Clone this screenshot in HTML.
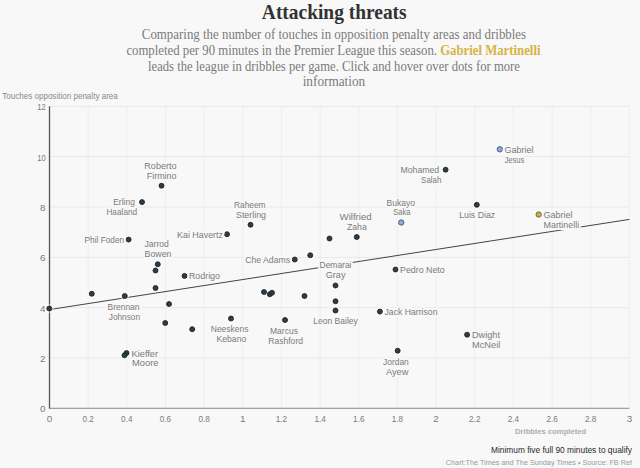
<!DOCTYPE html>
<html><head><meta charset="utf-8"><style>
html,body{margin:0;padding:0;background:#f8f8f8;width:640px;height:468px;overflow:hidden;}
.t{position:absolute;left:0;width:668px;text-align:center;font-family:"Liberation Serif",serif;}
#title{top:0px;font-size:21px;font-weight:bold;color:#323232;line-height:25px;}
#title span{display:inline-block;transform:scaleX(0.925);}
.sub{font-family:"Liberation Serif",serif;font-size:14px;fill:#7a7a7a;}
.gm{fill:#d6b444;font-weight:bold;}
svg{position:absolute;left:0;top:0;}
.lb{font-family:"Liberation Sans",sans-serif;font-size:9px;fill:#7b7b7b;paint-order:stroke;stroke:#f8f8f8;stroke-width:4px;stroke-linejoin:round;}
.tk{font-family:"Liberation Sans",sans-serif;font-size:9.9px;fill:#7b7b7b;}
.sm{font-family:"Liberation Sans",sans-serif;}
</style></head><body>
<div class="t" id="title"><span>Attacking threats</span></div>

<svg width="640" height="468" viewBox="0 0 640 468">
<g class="sub">
<text x="141.8" y="39.4" textLength="384.3" lengthAdjust="spacingAndGlyphs">Comparing the number of touches in opposition penalty areas and dribbles</text>
<text x="126.4" y="54.9" textLength="414.1" lengthAdjust="spacingAndGlyphs">completed per 90 minutes in the Premier League this season. <tspan class="gm">Gabriel Martinelli</tspan></text>
<text x="148" y="70.8" textLength="371.9" lengthAdjust="spacingAndGlyphs">leads the league in dribbles per game. Click and hover over dots for more</text>
<text x="302.7" y="85.9" textLength="62.5" lengthAdjust="spacingAndGlyphs">information</text>
</g>
<text x="2.2" y="98.8" class="sm" font-size="8.8" fill="#888888" textLength="115.6" lengthAdjust="spacingAndGlyphs">Touches opposition penalty area</text>
<line x1="49.50" y1="106.30" x2="49.50" y2="408.40" stroke="#eeeeee" stroke-width="1"/>
<line x1="88.16" y1="106.30" x2="88.16" y2="408.40" stroke="#eeeeee" stroke-width="1"/>
<line x1="126.82" y1="106.30" x2="126.82" y2="408.40" stroke="#eeeeee" stroke-width="1"/>
<line x1="165.48" y1="106.30" x2="165.48" y2="408.40" stroke="#eeeeee" stroke-width="1"/>
<line x1="204.14" y1="106.30" x2="204.14" y2="408.40" stroke="#eeeeee" stroke-width="1"/>
<line x1="242.80" y1="106.30" x2="242.80" y2="408.40" stroke="#eeeeee" stroke-width="1"/>
<line x1="281.46" y1="106.30" x2="281.46" y2="408.40" stroke="#eeeeee" stroke-width="1"/>
<line x1="320.12" y1="106.30" x2="320.12" y2="408.40" stroke="#eeeeee" stroke-width="1"/>
<line x1="358.78" y1="106.30" x2="358.78" y2="408.40" stroke="#eeeeee" stroke-width="1"/>
<line x1="397.44" y1="106.30" x2="397.44" y2="408.40" stroke="#eeeeee" stroke-width="1"/>
<line x1="436.10" y1="106.30" x2="436.10" y2="408.40" stroke="#eeeeee" stroke-width="1"/>
<line x1="474.76" y1="106.30" x2="474.76" y2="408.40" stroke="#eeeeee" stroke-width="1"/>
<line x1="513.42" y1="106.30" x2="513.42" y2="408.40" stroke="#eeeeee" stroke-width="1"/>
<line x1="552.08" y1="106.30" x2="552.08" y2="408.40" stroke="#eeeeee" stroke-width="1"/>
<line x1="590.74" y1="106.30" x2="590.74" y2="408.40" stroke="#eeeeee" stroke-width="1"/>
<line x1="629.40" y1="106.30" x2="629.40" y2="408.40" stroke="#eeeeee" stroke-width="1"/>
<line x1="49.50" y1="408.40" x2="629.40" y2="408.40" stroke="#e9e9e9" stroke-width="1"/>
<line x1="49.50" y1="358.05" x2="629.40" y2="358.05" stroke="#e9e9e9" stroke-width="1"/>
<line x1="49.50" y1="307.70" x2="629.40" y2="307.70" stroke="#e9e9e9" stroke-width="1"/>
<line x1="49.50" y1="257.35" x2="629.40" y2="257.35" stroke="#e9e9e9" stroke-width="1"/>
<line x1="49.50" y1="207.00" x2="629.40" y2="207.00" stroke="#e9e9e9" stroke-width="1"/>
<line x1="49.50" y1="156.65" x2="629.40" y2="156.65" stroke="#e9e9e9" stroke-width="1"/>
<line x1="49.50" y1="106.30" x2="629.40" y2="106.30" stroke="#e9e9e9" stroke-width="1"/>
<line x1="49.50" y1="408.40" x2="629.40" y2="408.40" stroke="#a0a0a0" stroke-width="1.2"/>
<line x1="49.50" y1="106.30" x2="49.50" y2="408.40" stroke="#555" stroke-width="1.3"/>
<text x="45.6" y="412.40" text-anchor="end" class="tk">0</text>
<text x="45.6" y="362.05" text-anchor="end" class="tk">2</text>
<text x="45.6" y="311.70" text-anchor="end" class="tk">4</text>
<text x="45.6" y="261.35" text-anchor="end" class="tk">6</text>
<text x="45.6" y="211.00" text-anchor="end" class="tk">8</text>
<text x="45.6" y="160.65" text-anchor="end" class="tk" textLength="8.4" lengthAdjust="spacingAndGlyphs">10</text>
<text x="45.6" y="110.30" text-anchor="end" class="tk" textLength="8.4" lengthAdjust="spacingAndGlyphs">12</text>
<text x="49.50" y="421.8" text-anchor="middle" class="tk">0</text>
<text x="88.16" y="421.8" text-anchor="middle" class="tk" textLength="11.4" lengthAdjust="spacingAndGlyphs">0.2</text>
<text x="126.82" y="421.8" text-anchor="middle" class="tk" textLength="11.4" lengthAdjust="spacingAndGlyphs">0.4</text>
<text x="165.48" y="421.8" text-anchor="middle" class="tk" textLength="11.4" lengthAdjust="spacingAndGlyphs">0.6</text>
<text x="204.14" y="421.8" text-anchor="middle" class="tk" textLength="11.4" lengthAdjust="spacingAndGlyphs">0.8</text>
<text x="242.80" y="421.8" text-anchor="middle" class="tk">1</text>
<text x="281.46" y="421.8" text-anchor="middle" class="tk" textLength="11.4" lengthAdjust="spacingAndGlyphs">1.2</text>
<text x="320.12" y="421.8" text-anchor="middle" class="tk" textLength="11.4" lengthAdjust="spacingAndGlyphs">1.4</text>
<text x="358.78" y="421.8" text-anchor="middle" class="tk" textLength="11.4" lengthAdjust="spacingAndGlyphs">1.6</text>
<text x="397.44" y="421.8" text-anchor="middle" class="tk" textLength="11.4" lengthAdjust="spacingAndGlyphs">1.8</text>
<text x="436.10" y="421.8" text-anchor="middle" class="tk">2</text>
<text x="474.76" y="421.8" text-anchor="middle" class="tk" textLength="11.4" lengthAdjust="spacingAndGlyphs">2.2</text>
<text x="513.42" y="421.8" text-anchor="middle" class="tk" textLength="11.4" lengthAdjust="spacingAndGlyphs">2.4</text>
<text x="552.08" y="421.8" text-anchor="middle" class="tk" textLength="11.4" lengthAdjust="spacingAndGlyphs">2.6</text>
<text x="590.74" y="421.8" text-anchor="middle" class="tk" textLength="11.4" lengthAdjust="spacingAndGlyphs">2.8</text>
<text x="629.40" y="421.8" text-anchor="middle" class="tk">3</text>
<line x1="49.50" y1="309.6" x2="629.4" y2="219.4" stroke="#3a3a3a" stroke-width="0.95"/>
<circle cx="499.8" cy="149.3" r="4.3" fill="#ffffff" opacity="0.55"/>
<circle cx="445.6" cy="169.7" r="4.3" fill="#ffffff" opacity="0.55"/>
<circle cx="476.8" cy="204.8" r="4.3" fill="#ffffff" opacity="0.55"/>
<circle cx="538.7" cy="214.5" r="4.3" fill="#ffffff" opacity="0.55"/>
<circle cx="401.25" cy="222.5" r="4.3" fill="#ffffff" opacity="0.55"/>
<circle cx="356.75" cy="237" r="4.3" fill="#ffffff" opacity="0.55"/>
<circle cx="329.5" cy="238.5" r="4.3" fill="#ffffff" opacity="0.55"/>
<circle cx="395.5" cy="269.5" r="4.3" fill="#ffffff" opacity="0.55"/>
<circle cx="294.75" cy="259.5" r="4.3" fill="#ffffff" opacity="0.55"/>
<circle cx="310.25" cy="255.25" r="4.3" fill="#ffffff" opacity="0.55"/>
<circle cx="250.5" cy="224.75" r="4.3" fill="#ffffff" opacity="0.55"/>
<circle cx="227" cy="234.2" r="4.3" fill="#ffffff" opacity="0.55"/>
<circle cx="161.5" cy="185.7" r="4.3" fill="#ffffff" opacity="0.55"/>
<circle cx="142" cy="202.1" r="4.3" fill="#ffffff" opacity="0.55"/>
<circle cx="128.6" cy="239.6" r="4.3" fill="#ffffff" opacity="0.55"/>
<circle cx="157.75" cy="264.25" r="4.3" fill="#ffffff" opacity="0.55"/>
<circle cx="155.5" cy="270.5" r="4.3" fill="#ffffff" opacity="0.55"/>
<circle cx="184.5" cy="275.9" r="4.3" fill="#ffffff" opacity="0.55"/>
<circle cx="155.5" cy="288" r="4.3" fill="#ffffff" opacity="0.55"/>
<circle cx="91.75" cy="293.75" r="4.3" fill="#ffffff" opacity="0.55"/>
<circle cx="124.75" cy="296" r="4.3" fill="#ffffff" opacity="0.55"/>
<circle cx="49.3" cy="308.5" r="4.3" fill="#ffffff" opacity="0.55"/>
<circle cx="169" cy="304" r="4.3" fill="#ffffff" opacity="0.55"/>
<circle cx="165.25" cy="323" r="4.3" fill="#ffffff" opacity="0.55"/>
<circle cx="192.2" cy="329.2" r="4.3" fill="#ffffff" opacity="0.55"/>
<circle cx="126.5" cy="353" r="4.3" fill="#ffffff" opacity="0.55"/>
<circle cx="124.5" cy="355.25" r="4.3" fill="#ffffff" opacity="0.55"/>
<circle cx="264" cy="292" r="4.3" fill="#ffffff" opacity="0.55"/>
<circle cx="269.75" cy="294.25" r="4.3" fill="#ffffff" opacity="0.55"/>
<circle cx="272" cy="292.75" r="4.3" fill="#ffffff" opacity="0.55"/>
<circle cx="304.5" cy="296" r="4.3" fill="#ffffff" opacity="0.55"/>
<circle cx="335.5" cy="285.5" r="4.3" fill="#ffffff" opacity="0.55"/>
<circle cx="335.5" cy="301.25" r="4.3" fill="#ffffff" opacity="0.55"/>
<circle cx="335.5" cy="310.5" r="4.3" fill="#ffffff" opacity="0.55"/>
<circle cx="231" cy="318.5" r="4.3" fill="#ffffff" opacity="0.55"/>
<circle cx="285" cy="320" r="4.3" fill="#ffffff" opacity="0.55"/>
<circle cx="379.9" cy="311.6" r="4.3" fill="#ffffff" opacity="0.55"/>
<circle cx="467.1" cy="334.7" r="4.3" fill="#ffffff" opacity="0.55"/>
<circle cx="397.65" cy="350.7" r="4.3" fill="#ffffff" opacity="0.55"/>
<circle cx="499.8" cy="149.3" r="2.7" fill="#8fabd6" stroke="#3b5377" stroke-width="0.9"/>
<circle cx="445.6" cy="169.7" r="2.5" fill="#2c3d47" stroke="#1a2024" stroke-width="0.85"/>
<circle cx="476.8" cy="204.8" r="2.5" fill="#2c3d47" stroke="#1a2024" stroke-width="0.85"/>
<circle cx="538.7" cy="214.5" r="2.7" fill="#c8ae48" stroke="#6d5c1c" stroke-width="0.9"/>
<circle cx="401.25" cy="222.5" r="2.7" fill="#8fabd6" stroke="#3b5377" stroke-width="0.9"/>
<circle cx="356.75" cy="237" r="2.5" fill="#2c3d47" stroke="#1a2024" stroke-width="0.85"/>
<circle cx="329.5" cy="238.5" r="2.5" fill="#2c3d47" stroke="#1a2024" stroke-width="0.85"/>
<circle cx="395.5" cy="269.5" r="2.5" fill="#2c3d47" stroke="#1a2024" stroke-width="0.85"/>
<circle cx="294.75" cy="259.5" r="2.5" fill="#2c3d47" stroke="#1a2024" stroke-width="0.85"/>
<circle cx="310.25" cy="255.25" r="2.5" fill="#2c3d47" stroke="#1a2024" stroke-width="0.85"/>
<circle cx="250.5" cy="224.75" r="2.5" fill="#2c3d47" stroke="#1a2024" stroke-width="0.85"/>
<circle cx="227" cy="234.2" r="2.5" fill="#2c3d47" stroke="#1a2024" stroke-width="0.85"/>
<circle cx="161.5" cy="185.7" r="2.5" fill="#2c3d47" stroke="#1a2024" stroke-width="0.85"/>
<circle cx="142" cy="202.1" r="2.5" fill="#2c3d47" stroke="#1a2024" stroke-width="0.85"/>
<circle cx="128.6" cy="239.6" r="2.5" fill="#2c3d47" stroke="#1a2024" stroke-width="0.85"/>
<circle cx="157.75" cy="264.25" r="2.5" fill="#2c3d47" stroke="#1a2024" stroke-width="0.85"/>
<circle cx="155.5" cy="270.5" r="2.5" fill="#2c3d47" stroke="#1a2024" stroke-width="0.85"/>
<circle cx="184.5" cy="275.9" r="2.5" fill="#2c3d47" stroke="#1a2024" stroke-width="0.85"/>
<circle cx="155.5" cy="288" r="2.5" fill="#2c3d47" stroke="#1a2024" stroke-width="0.85"/>
<circle cx="91.75" cy="293.75" r="2.5" fill="#2c3d47" stroke="#1a2024" stroke-width="0.85"/>
<circle cx="124.75" cy="296" r="2.5" fill="#2c3d47" stroke="#1a2024" stroke-width="0.85"/>
<circle cx="49.3" cy="308.5" r="2.5" fill="#2c3d47" stroke="#1a2024" stroke-width="0.85"/>
<circle cx="169" cy="304" r="2.5" fill="#2c3d47" stroke="#1a2024" stroke-width="0.85"/>
<circle cx="165.25" cy="323" r="2.5" fill="#2c3d47" stroke="#1a2024" stroke-width="0.85"/>
<circle cx="192.2" cy="329.2" r="2.5" fill="#2c3d47" stroke="#1a2024" stroke-width="0.85"/>
<circle cx="126.5" cy="353" r="2.5" fill="#2c3d47" stroke="#1a2024" stroke-width="0.85"/>
<circle cx="124.5" cy="355.25" r="2.5" fill="#2c3d47" stroke="#1a2024" stroke-width="0.85"/>
<circle cx="264" cy="292" r="2.5" fill="#2c3d47" stroke="#1a2024" stroke-width="0.85"/>
<circle cx="269.75" cy="294.25" r="2.5" fill="#2c3d47" stroke="#1a2024" stroke-width="0.85"/>
<circle cx="272" cy="292.75" r="2.5" fill="#2c3d47" stroke="#1a2024" stroke-width="0.85"/>
<circle cx="304.5" cy="296" r="2.5" fill="#2c3d47" stroke="#1a2024" stroke-width="0.85"/>
<circle cx="335.5" cy="285.5" r="2.5" fill="#2c3d47" stroke="#1a2024" stroke-width="0.85"/>
<circle cx="335.5" cy="301.25" r="2.5" fill="#2c3d47" stroke="#1a2024" stroke-width="0.85"/>
<circle cx="335.5" cy="310.5" r="2.5" fill="#2c3d47" stroke="#1a2024" stroke-width="0.85"/>
<circle cx="231" cy="318.5" r="2.5" fill="#2c3d47" stroke="#1a2024" stroke-width="0.85"/>
<circle cx="285" cy="320" r="2.5" fill="#2c3d47" stroke="#1a2024" stroke-width="0.85"/>
<circle cx="379.9" cy="311.6" r="2.5" fill="#2c3d47" stroke="#1a2024" stroke-width="0.85"/>
<circle cx="467.1" cy="334.7" r="2.5" fill="#2c3d47" stroke="#1a2024" stroke-width="0.85"/>
<circle cx="397.65" cy="350.7" r="2.5" fill="#2c3d47" stroke="#1a2024" stroke-width="0.85"/>
<text x="144.30" y="169.2" textLength="32.30" lengthAdjust="spacingAndGlyphs" class="lb">Roberto</text>
<text x="146.70" y="178.9" textLength="29.90" lengthAdjust="spacingAndGlyphs" class="lb">Firmino</text>
<text x="113.20" y="205.3" textLength="21.70" lengthAdjust="spacingAndGlyphs" class="lb">Erling</text>
<text x="106.40" y="215.4" textLength="30.80" lengthAdjust="spacingAndGlyphs" class="lb">Haaland</text>
<text x="84.50" y="243" textLength="39.75" lengthAdjust="spacingAndGlyphs" class="lb">Phil Foden</text>
<text x="144.50" y="247" textLength="24.25" lengthAdjust="spacingAndGlyphs" class="lb">Jarrod</text>
<text x="144.50" y="257" textLength="27.00" lengthAdjust="spacingAndGlyphs" class="lb">Bowen</text>
<text x="188.90" y="279.2" textLength="31.10" lengthAdjust="spacingAndGlyphs" class="lb">Rodrigo</text>
<text x="107.50" y="309.5" textLength="32.00" lengthAdjust="spacingAndGlyphs" class="lb">Brennan</text>
<text x="108.75" y="319.5" textLength="31.25" lengthAdjust="spacingAndGlyphs" class="lb">Johnson</text>
<text x="131.50" y="356.7" textLength="26.60" lengthAdjust="spacingAndGlyphs" class="lb">Kieffer</text>
<text x="132.00" y="366.4" textLength="26.50" lengthAdjust="spacingAndGlyphs" class="lb">Moore</text>
<text x="234.00" y="207.5" textLength="31.50" lengthAdjust="spacingAndGlyphs" class="lb">Raheem</text>
<text x="236.00" y="217.5" textLength="30.00" lengthAdjust="spacingAndGlyphs" class="lb">Sterling</text>
<text x="177.00" y="237.5" textLength="46.00" lengthAdjust="spacingAndGlyphs" class="lb">Kai Havertz</text>
<text x="245.25" y="263.25" textLength="44.75" lengthAdjust="spacingAndGlyphs" class="lb">Che Adams</text>
<text transform="translate(335.5 268.1) scale(0.94 1)" text-anchor="middle" class="lb">Demarai</text>
<text x="325.75" y="278.25" textLength="19.75" lengthAdjust="spacingAndGlyphs" class="lb">Gray</text>
<text x="339.50" y="220" textLength="32.25" lengthAdjust="spacingAndGlyphs" class="lb">Wilfried</text>
<text x="347.00" y="229.5" textLength="19.75" lengthAdjust="spacingAndGlyphs" class="lb">Zaha</text>
<text x="386.50" y="205.5" textLength="28.50" lengthAdjust="spacingAndGlyphs" class="lb">Bukayo</text>
<text x="393.25" y="215" textLength="17.25" lengthAdjust="spacingAndGlyphs" class="lb">Saka</text>
<text x="400.00" y="272.5" textLength="44.75" lengthAdjust="spacingAndGlyphs" class="lb">Pedro Neto</text>
<text x="459.20" y="218.1" textLength="36.00" lengthAdjust="spacingAndGlyphs" class="lb">Luis Diaz</text>
<text x="400.40" y="172.8" textLength="38.85" lengthAdjust="spacingAndGlyphs" class="lb">Mohamed</text>
<text x="421.10" y="182.5" textLength="20.30" lengthAdjust="spacingAndGlyphs" class="lb">Salah</text>
<text x="504.50" y="152.5" textLength="29.00" lengthAdjust="spacingAndGlyphs" class="lb">Gabriel</text>
<text x="504.50" y="162.8" textLength="19.75" lengthAdjust="spacingAndGlyphs" class="lb">Jesus</text>
<text x="543.50" y="218.1" textLength="29.10" lengthAdjust="spacingAndGlyphs" class="lb">Gabriel</text>
<text x="543.50" y="228" textLength="35.70" lengthAdjust="spacingAndGlyphs" class="lb">Martinelli</text>
<text x="210.75" y="331.75" textLength="37.75" lengthAdjust="spacingAndGlyphs" class="lb">Neeskens</text>
<text x="216.50" y="341.75" textLength="29.75" lengthAdjust="spacingAndGlyphs" class="lb">Kebano</text>
<text x="270.00" y="333.75" textLength="28.00" lengthAdjust="spacingAndGlyphs" class="lb">Marcus</text>
<text x="268.25" y="343.75" textLength="34.75" lengthAdjust="spacingAndGlyphs" class="lb">Rashford</text>
<text x="313.25" y="324.25" textLength="44.65" lengthAdjust="spacingAndGlyphs" class="lb">Leon Bailey</text>
<text x="384.50" y="315" textLength="53.00" lengthAdjust="spacingAndGlyphs" class="lb">Jack Harrison</text>
<text x="472.00" y="337.8" textLength="28.00" lengthAdjust="spacingAndGlyphs" class="lb">Dwight</text>
<text x="472.00" y="347.9" textLength="28.30" lengthAdjust="spacingAndGlyphs" class="lb">McNeil</text>
<text x="383.10" y="365" textLength="25.70" lengthAdjust="spacingAndGlyphs" class="lb">Jordan</text>
<text x="385.90" y="374.8" textLength="22.60" lengthAdjust="spacingAndGlyphs" class="lb">Ayew</text>
<text x="586.3" y="434" text-anchor="end" class="sm" font-size="7.7" font-weight="bold" fill="#acacac">Dribbles completed</text>
<text x="632" y="453.3" text-anchor="end" class="sm" font-size="8.35" fill="#2a2a2a">Minimum five full 90 minutes to qualify</text>
<text x="632" y="465" text-anchor="end" class="sm" font-size="7.25" fill="#9a9a9a">Chart:The Times and The Sunday Times • Source: FB Ref</text>
</svg>
</body></html>
